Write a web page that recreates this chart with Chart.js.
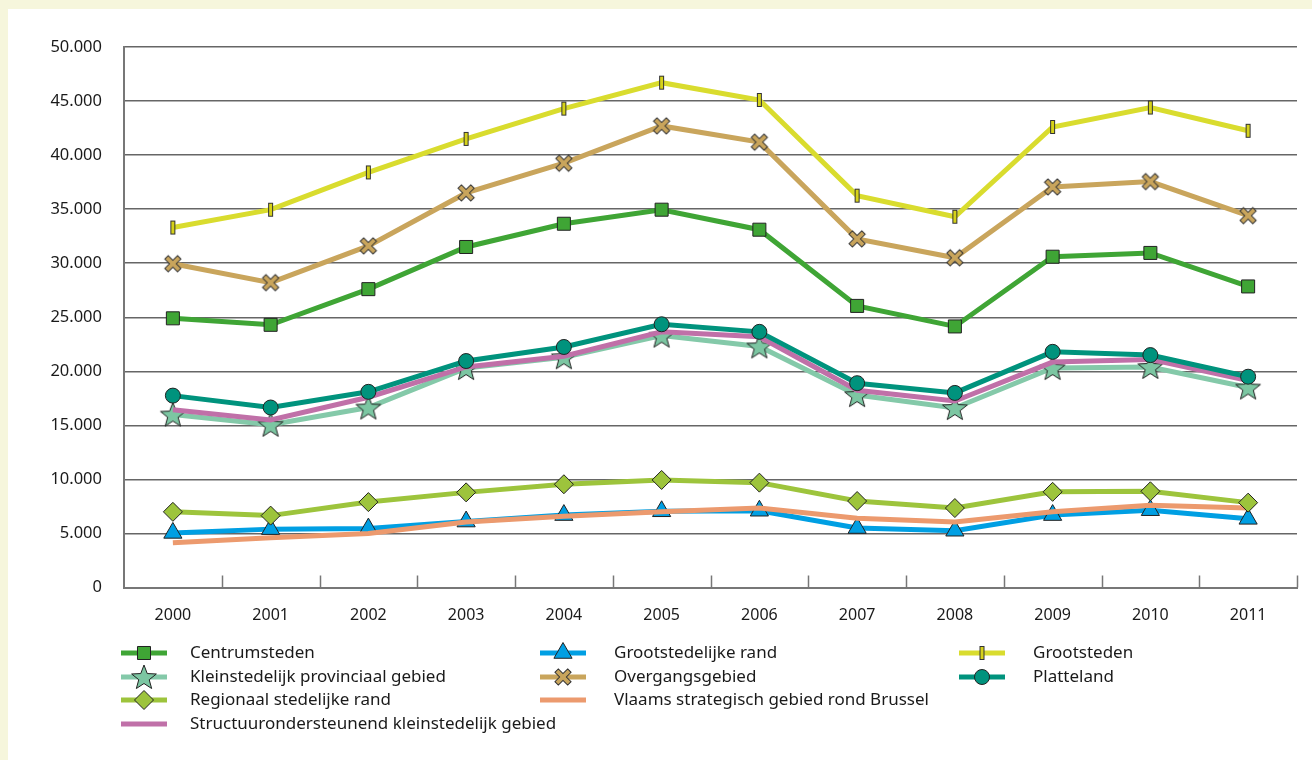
<!DOCTYPE html>
<html>
<head>
<meta charset="utf-8">
<script src="https://cdn.jsdelivr.net/npm/chart.js@4"></script>
<style>
  body { margin: 0; background: #f6f6dc; }
  #wrap { position: relative; width: 1312px; height: 760px; overflow: hidden; }
  #panel { position: absolute; left: 8px; top: 9px; right: 0; bottom: 0; background: #fff; }
  #c { position: absolute; left: 0; top: 0; }
</style>
</head>
<body>
<div id="wrap">
  <div id="panel"></div>
  <canvas id="c" width="1312" height="760"></canvas>
</div>
<script>
// --- data ---
const years = ['2000','2001','2002','2003','2004','2005','2006','2007','2008','2009','2010','2011'];

const centrumsteden       = [24900, 24300, 27600, 31500, 33650, 34950, 33100, 26050, 24150, 30600, 30950, 27850];
const grootsteden         = [33300, 34950, 38400, 41500, 44300, 46700, 45100, 36250, 34300, 42600, 44400, 42250];
const overgangsgebied     = [29950, 28200, 31600, 36500, 39250, 42700, 41200, 32250, 30500, 37050, 37550, 34400];
const platteland          = [17750, 16650, 18100, 20950, 22250, 24350, 23650, 18900, 18000, 21800, 21500, 19500];
const kleinstedelijk      = [16000, 15050, 16650, 20300, 21300, 23300, 22300, 17800, 16600, 20300, 20400, 18500];
const structuur           = [16450, 15500, 17600, 20400, 21400, 23650, 23200, 18250, 17250, 20850, 21100, 19150];
const regionaal           = [7000, 6650, 7900, 8800, 9550, 9950, 9700, 8000, 7350, 8850, 8900, 7850];
const grootstedelijkeRand = [5050, 5400, 5450, 6100, 6700, 7050, 7100, 5500, 5250, 6700, 7150, 6350];
const vlaamsStrategisch   = [4150, 4600, 5000, 6050, 6600, 7000, 7350, 6400, 6050, 7000, 7600, 7350];

const yMax = 50000, yStep = 5000;

const FONT = "'Noto Sans', 'Open Sans', sans-serif";
const TXT = '#1a1a1a';

// --- eigen markers ---
function makeStar(fill) {
  const c = document.createElement('canvas'); c.width = 30; c.height = 30;
  const g = c.getContext('2d');
  g.beginPath();
  for (let k = 0; k < 10; k++) {
    const r = k % 2 ? 5.5 : 13;
    const a = -Math.PI / 2 + k * Math.PI / 5;
    g.lineTo(15 + r * Math.cos(a), 16 + r * Math.sin(a));
  }
  g.closePath(); g.fillStyle = fill; g.fill();
  g.strokeStyle = '#222'; g.lineWidth = 1; g.stroke();
  return c;
}
function makeX(fill) {
  const c = document.createElement('canvas'); c.width = 22; c.height = 22;
  const g = c.getContext('2d');
  const w = 2.4, a = 9;
  const pts = [[-w,-a],[w,-a],[w,-w],[a,-w],[a,w],[w,w],[w,a],[-w,a],[-w,w],[-a,w],[-a,-w],[-w,-w]];
  g.translate(11, 11); g.rotate(Math.PI / 4);
  g.beginPath();
  pts.forEach(p => g.lineTo(p[0], p[1]));
  g.closePath(); g.fillStyle = fill; g.fill();
  g.strokeStyle = '#333'; g.lineWidth = 1; g.stroke();
  return c;
}
function makeBar(fill) {
  const c = document.createElement('canvas'); c.width = 7; c.height = 16;
  const g = c.getContext('2d');
  g.fillStyle = fill; g.fillRect(1, 1, 5, 14);
  g.strokeStyle = '#333'; g.lineWidth = 1; g.strokeRect(1.5, 1.5, 4, 13);
  return c;
}

function ds(label, data, color, extra) {
  return Object.assign({
    label, data, borderColor: color, backgroundColor: color,
    borderWidth: 5, tension: 0, pointBorderColor: '#222', pointBorderWidth: 1,
    pointBackgroundColor: color, pointRadius: 0, pointHoverRadius: 0
  }, extra);
}

const datasets = [
  ds('Centrumsteden', centrumsteden, '#3fa535', { pointStyle: 'rect', pointRadius: 9.2, order: 3 }),
  ds('Kleinstedelijk provinciaal gebied', kleinstedelijk, '#84c9a9', { pointStyle: makeStar('#7cc6a2'), pointRadius: 10, order: 6 }),
  ds('Regionaal stedelijke rand', regionaal, '#9dc43c', { pointStyle: 'rectRot', pointRadius: 9.5, order: 2 }),
  ds('Structuurondersteunend kleinstedelijk gebied', structuur, '#c070a8', { order: 5 }),
  ds('Grootstedelijke rand', grootstedelijkeRand, '#009fe3', { pointStyle: 'triangle', pointRadius: 10.5, order: 8 }),
  ds('Overgangsgebied', overgangsgebied, '#c9a55c', { pointStyle: makeX('#c9a55c'), pointRadius: 9, order: 4 }),
  ds('Vlaams strategisch gebied rond Brussel', vlaamsStrategisch, '#ec9a6e', { order: 7 }),
  ds('Grootsteden', grootsteden, '#d9dc2e', { pointStyle: makeBar('#d6d21a'), pointRadius: 7, order: 1 }),
  ds('Platteland', platteland, '#00937d', { pointStyle: 'circle', pointRadius: 7.5, order: 4.5 })
];

// kleine streepjes op de x-as tussen de jaren
const xTicks = {
  id: 'xTicks',
  beforeDatasetsDraw(chart) {
    const xs = chart.scales.x, ctx = chart.ctx, bottom = chart.chartArea.bottom;
    const half = (xs.getPixelForTick(1) - xs.getPixelForTick(0)) / 2;
    ctx.save();
    ctx.strokeStyle = '#777'; ctx.lineWidth = 1.5;
    for (let i = 0; i < years.length; i++) {
      const x = Math.round(xs.getPixelForTick(i) + half) + 0.5;
      ctx.beginPath(); ctx.moveTo(x, bottom); ctx.lineTo(x, bottom - 12); ctx.stroke();
    }
    ctx.restore();
  }
};

// legenda in drie kolommen
const legendCols = {
  id: 'legendCols',
  afterDraw(chart) {
    const ctx = chart.ctx;
    const cols = [[144, 190], [563, 614], [982, 1033]];
    const rows = [653, 677, 700, 724];
    const layout = [[0,0],[0,1],[0,2],[0,3],[1,0],[1,1],[1,2],[2,0],[2,1]];
    ctx.save();
    chart.data.datasets.forEach((d, i) => {
      const [ci, ri] = layout[i];
      const cx = cols[ci][0], tx = cols[ci][1], y = rows[ri];
      ctx.strokeStyle = d.borderColor; ctx.lineWidth = 5;
      ctx.beginPath(); ctx.moveTo(cx - 23, y); ctx.lineTo(cx + 23, y); ctx.stroke();
      if (d.pointRadius > 0) {
        ctx.fillStyle = d.pointBackgroundColor; ctx.strokeStyle = d.pointBorderColor; ctx.lineWidth = 1;
        Chart.helpers.drawPoint(ctx, { pointStyle: d.pointStyle, radius: d.pointRadius, rotation: 0, borderWidth: 1 }, cx, y);
      }
      ctx.fillStyle = TXT; ctx.font = '17px ' + FONT;
      ctx.textAlign = 'left'; ctx.textBaseline = 'middle';
      ctx.fillText(d.label, tx, y);
    });
    ctx.restore();
  }
};

new Chart(document.getElementById('c'), {
  type: 'line',
  data: { labels: years, datasets },
  options: {
    responsive: false, animation: false, devicePixelRatio: 1,
    layout: { padding: { top: 47, right: 15, left: 0, bottom: 0 } },
    plugins: { legend: { display: false }, tooltip: { enabled: false } },
    scales: {
      x: {
        offset: true,
        grid: { display: false },
        border: { display: true, color: '#777', width: 2 },
        ticks: { color: TXT, font: { family: FONT, size: 16 }, padding: 10, maxRotation: 0 },
        afterFit: s => { s.height = 172.5; }
      },
      y: {
        min: 0, max: yMax,
        grid: { color: '#666', lineWidth: 1.5, drawTicks: false },
        border: { display: true, color: '#777', width: 2 },
        ticks: {
          stepSize: yStep, padding: 22, color: TXT, font: { family: FONT, size: 16.5 },
          callback: v => v === 0 ? '0' : String(v).replace(/\B(?=(\d{3})+(?!\d))/g, '.')
        },
        afterFit: s => { s.width = 124; }
      }
    }
  },
  plugins: [xTicks, legendCols]
});
</script>
</body>
</html>
